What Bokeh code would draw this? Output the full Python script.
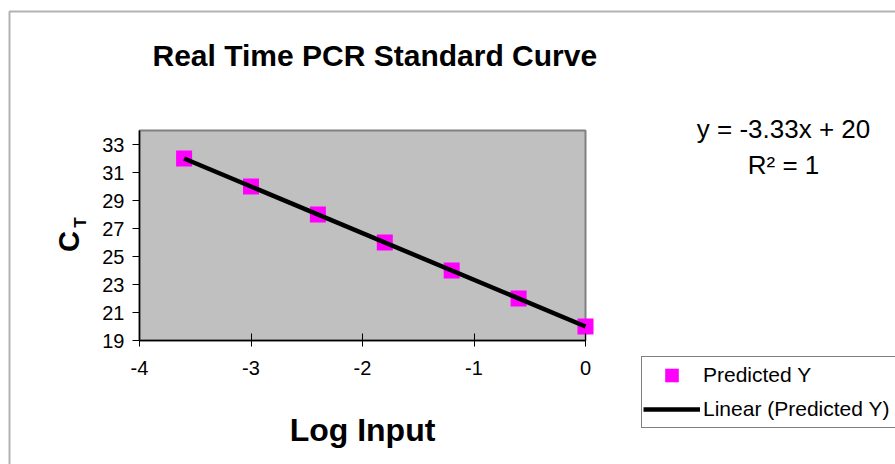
import numpy as np
from bokeh.plotting import figure
from bokeh.models import (Label, Legend, LegendItem, FixedTicker, BoxAnnotation,
                          ColumnDataSource, PrintfTickFormatter)
from bokeh.embed import file_html
from bokeh.resources import INLINE

# ---- data ----
log_input = [-3.6, -3.0, -2.4, -1.8, -1.2, -0.6, 0.0]
predicted_y = [32, 30, 28, 26, 24, 22, 20]
x_ticks = [-4, -3, -2, -1, 0]
y_ticks = [19, 21, 23, 25, 27, 29, 31, 33]
y_axis_max = 34
title_text = "Real Time PCR Standard Curve"
x_title = "Log Input"
y_title_main = "C"
y_title_sub = "T"
equation_text = "y = -3.33x + 20"
r2_text = "R² = 1"
series_name = "Predicted Y"
trend_name = "Linear (Predicted Y)"

X0, X1 = x_ticks[0], x_ticks[-1]
Y0, Y1 = y_ticks[0], y_axis_max

# ---- layout geometry (canvas pixels) ----
W, H = 895, 464
FL, FR, FT, FB = 139, 585, 130, 340   # plot-area box


def px2x(px):
    return X0 + (px - FL) / (FR - FL) * (X1 - X0)


def py2y(py):
    return Y0 + (FB - py) / (FB - FT) * (Y1 - Y0)


FONT = "Liberation Sans"

p = figure(width=W, height=H, output_backend="svg", toolbar_location=None,
           x_range=(px2x(0), px2x(W)), y_range=(py2y(H), py2y(0)),
           min_border=0, min_border_left=0, min_border_right=0,
           min_border_top=0, min_border_bottom=0)
p.title.text = ""
p.title.visible = False
p.background_fill_color = "white"
p.border_fill_color = "white"
p.outline_line_color = None
p.xgrid.visible = False
p.ygrid.visible = False

# plot area (grey box spanning the axis ranges)
p.quad(left=[X0], right=[X1], bottom=[Y0], top=[Y1], fill_color="#C0C0C0",
       line_color="#808080", line_width=2)

# axes drawn at the plot-area edges
p.xaxis.fixed_location = Y0
p.yaxis.fixed_location = X0
p.xaxis.bounds = (X0, X1)
p.yaxis.bounds = (Y0, Y1)
p.xaxis.ticker = FixedTicker(ticks=x_ticks)
p.yaxis.ticker = FixedTicker(ticks=y_ticks)
for ax in (p.xaxis[0], p.yaxis[0]):
    ax.formatter = PrintfTickFormatter(format="%d")
    ax.axis_line_color = "black"
    ax.axis_line_width = 1.5
    ax.major_tick_line_color = "black"
    ax.major_tick_line_width = 1
    ax.minor_tick_line_color = None
    ax.major_label_text_font = FONT
    ax.major_label_text_font_size = "20px"
    ax.major_label_text_color = "black"
p.xaxis.major_tick_in = 7
p.xaxis.major_tick_out = 6
p.xaxis.major_label_standoff = 14
p.yaxis.major_tick_in = 0
p.yaxis.major_tick_out = 7
p.yaxis.major_label_standoff = 8

src = ColumnDataSource(dict(x=log_input, y=predicted_y))
pts = p.scatter("x", "y", source=src, marker="square", size=16,
                fill_color="#FF00FF", line_color=None)

# linear trendline fitted to the series
slope, intercept = np.polyfit(log_input, predicted_y, 1)
tx = [min(log_input), max(log_input)]
ty = [slope * v + intercept for v in tx]
trend = p.line(tx, ty, line_color="black", line_width=4.5)

# legend
legend = Legend(items=[LegendItem(label=series_name, renderers=[pts]),
                       LegendItem(label=trend_name, renderers=[trend])],
                location=(641, H - 428), margin=0, padding=1,
                glyph_width=57, glyph_height=34, label_height=34, spacing=-1,
                label_standoff=3, label_width=200,
                label_text_font=FONT, label_text_font_size="21px",
                label_text_color="black", border_line_color="black",
                border_line_width=1, background_fill_color="white",
                background_fill_alpha=1)
p.add_layout(legend, "center")

# outer chart border (only top/left visible in the window)
p.add_layout(BoxAnnotation(left=px2x(9), top=py2y(11), right=px2x(3000), bottom=py2y(3000),
                           fill_alpha=0, line_color="black", line_width=2))

# title
p.add_layout(Label(x=px2x(152), y=py2y(55), text=title_text, text_font=FONT,
                   text_font_size="30px", text_font_style="bold", text_color="black",
                   text_align="left", text_baseline="alphabetic"))
# x axis title
p.add_layout(Label(x=px2x((FL + FR) / 2), y=py2y(429), text=x_title, text_font=FONT,
                   text_font_size="32px", text_font_style="bold", text_color="black",
                   text_align="center", text_baseline="alphabetic"))
# y axis title C with subscript T
p.add_layout(Label(x=px2x(68), y=py2y(241), text=y_title_main, text_font=FONT,
                   text_font_size="29px", text_font_style="bold", text_color="black",
                   angle=np.pi / 2, text_align="center", text_baseline="alphabetic"))
p.add_layout(Label(x=px2x(80), y=py2y(222), text=y_title_sub, text_font=FONT,
                   text_font_size="17px", text_font_style="bold", text_color="black",
                   angle=np.pi / 2, text_align="center", text_baseline="alphabetic"))
# trendline equation
p.add_layout(Label(x=px2x(783), y=py2y(128), text=equation_text, text_font=FONT,
                   text_font_size="26px", text_color="black",
                   text_align="center", text_baseline="alphabetic"))
p.add_layout(Label(x=px2x(783), y=py2y(164), text=r2_text, text_font=FONT,
                   text_font_size="26px", text_color="black",
                   text_align="center", text_baseline="alphabetic"))

open("out.html", "w").write(file_html(p, INLINE))
